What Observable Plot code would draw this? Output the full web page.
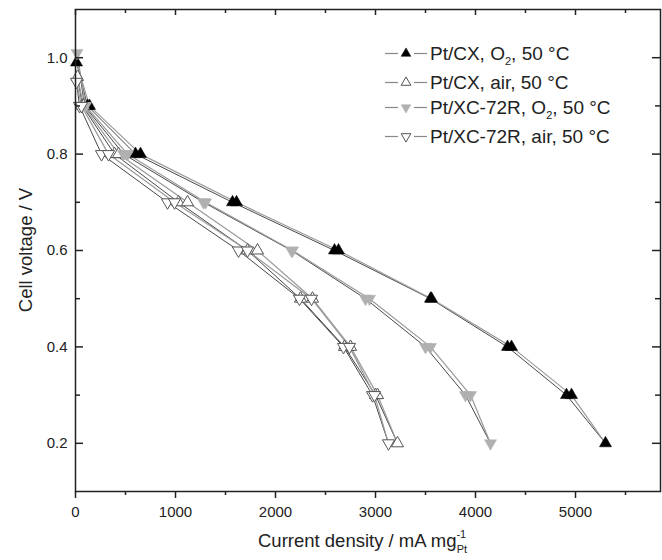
<!DOCTYPE html>
<html><head><meta charset="utf-8">
<script src="https://cdn.jsdelivr.net/npm/d3@7"></script>
<script src="https://cdn.jsdelivr.net/npm/@observablehq/plot@0.6"></script>
<style>body{margin:0;background:#fff} #chart{position:relative;width:662px;height:560px}</style>
</head><body><div id="chart"></div>
<script>
// ---- data ----
const xMajor = [0, 1000, 2000, 3000, 4000, 5000];
const xMinor = [500, 1500, 2500, 3500, 4500, 5500];
const yMajor = [0.2, 0.4, 0.6, 0.8, 1.0];
const yMinor = [0.3, 0.5, 0.7, 0.9];

const seriesCatalyst = ["Pt/CX", "Pt/CX", "Pt/XC-72R", "Pt/XC-72R"];
const seriesGas = ["O2", "air", "O2", "air"];

const scanVoltage = [0.9, 0.8, 0.7, 0.6, 0.5, 0.4, 0.3];
const endVoltage = 0.2;
const ocvVoltage = [0.99, 0.96, 1.01, 0.95];
const ocvCurrent = [10, 20, 15, 10];

const cxO2Down = [120, 600, 1570, 2590, 3550, 4320, 4910];
const cxO2Up = [140, 650, 1610, 2630, 3560, 4360, 4960];
const cxAirDown = [70, 390, 1030, 1720, 2250, 2690, 3000];
const cxAirUp = [80, 430, 1120, 1820, 2370, 2750, 3020];
const xcO2Down = [90, 480, 1280, 2160, 2900, 3500, 3900];
const xcO2Up = [100, 520, 1300, 2170, 2940, 3550, 3950];
const xcAirDown = [40, 260, 920, 1630, 2240, 2680, 2970];
const xcAirUp = [60, 330, 990, 1720, 2360, 2740, 2990];
const endCurrent = [5300, 3220, 4150, 3130];

const downScans = [cxO2Down, cxAirDown, xcO2Down, xcAirDown];
const upScans = [cxO2Up, cxAirUp, xcO2Up, xcAirUp];

// ---- build tables ----
const lineRows = [];
const dotRows = [[], [], [], []];
downScans.forEach((down, k) => {
  const up = upScans[k];
  const ocv = {i: ocvCurrent[k], v: ocvVoltage[k]};
  const end = {i: endCurrent[k], v: endVoltage};
  const dn = down.map((c, j) => ({i: c, v: scanVoltage[j]}));
  const upPts = up.map((c, j) => ({i: c, v: scanVoltage[j]}));
  [ocv, ...dn, end].forEach(p => lineRows.push({...p, key: k + "d", scan: "down"}));
  [end, ...upPts.slice().reverse(), ocv].forEach(p => lineRows.push({...p, key: k + "u", scan: "up"}));
  dotRows[k] = [ocv, ...dn, ...upPts, end];
});

// ---- symbols ----
const sqrt3 = Math.sqrt(3);
const triangleDown = {
  draw(context, size) {
    const y = Math.sqrt(size / (sqrt3 * 3));
    context.moveTo(0, 2 * y);
    context.lineTo(-sqrt3 * y, -y);
    context.lineTo(sqrt3 * y, -y);
    context.closePath();
  }
};
const styles = [
  {symbol: d3.symbolTriangle, fill: "#000", stroke: "#000", strokeWidth: 0.5},
  {symbol: d3.symbolTriangle, fill: "#fff", stroke: "#555", strokeWidth: 1},
  {symbol: triangleDown, fill: "#b0b0b0", stroke: "#b0b0b0", strokeWidth: 0.5},
  {symbol: triangleDown, fill: "#fff", stroke: "#555", strokeWidth: 1}
];

// ---- plot ----
const W = 662, H = 560, mL = 75, mR = 2, mT = 9, mB = 69;
const innerW = W - mL - mR, innerH = H - mT - mB;
const R = 4.5;
const axisStroke = "#222";

const svg = Plot.plot({
  width: W, height: H,
  marginLeft: mL, marginRight: mR, marginTop: mT, marginBottom: mB,
  x: {domain: [0, 5850]},
  y: {domain: [0.1, 1.1]},
  style: {fontFamily: "'Liberation Sans', Arial, sans-serif", fontSize: "15px", color: "#222", background: "#fff"},
  marks: [
    Plot.line(lineRows.filter(d => d.scan === "down"), {x: "i", y: "v", z: "key", stroke: "#333", strokeWidth: 0.9}),
    Plot.line(lineRows.filter(d => d.scan === "up"), {x: "i", y: "v", z: "key", stroke: "#9a9a9a", strokeWidth: 1.2}),
    ...styles.map((s, k) => Plot.dot(dotRows[k], {x: "i", y: "v", r: R, ...s})),
    Plot.frame({stroke: axisStroke, strokeWidth: 1.5}),
    Plot.axisX(xMajor, {anchor: "bottom", tickSize: 7, tickPadding: 8, tickFormat: d3.format("d"), label: null, fontSize: 15, strokeWidth: 1.5, stroke: axisStroke}),
    Plot.axisX(xMinor, {anchor: "bottom", tickSize: 4, tickFormat: () => "", label: null, strokeWidth: 1.5, stroke: axisStroke}),
    Plot.axisY(yMajor, {anchor: "left", tickSize: 0, tickPadding: 8, tickFormat: d3.format(".1f"), label: null, fontSize: 15}),
    Plot.ruleY(yMajor, {insetRight: innerW - 8, stroke: axisStroke, strokeWidth: 1.5}),
    Plot.ruleY(yMinor, {insetRight: innerW - 5, stroke: axisStroke, strokeWidth: 1.5}),
    Plot.ruleY(yMajor, {insetLeft: innerW - 8, stroke: axisStroke, strokeWidth: 1.5}),
    Plot.ruleY(yMinor, {insetLeft: innerW - 5, stroke: axisStroke, strokeWidth: 1.5}),
    Plot.ruleX(xMajor, {insetBottom: innerH - 6, stroke: axisStroke, strokeWidth: 1.5}),
    Plot.ruleX(xMinor, {insetBottom: innerH - 4, stroke: axisStroke, strokeWidth: 1.5})
  ]
});
document.getElementById("chart").appendChild(svg);

// ---- titles and legend (real SVG text) ----
const s = d3.select(svg);
const font = "'Liberation Sans', Arial, sans-serif";

const xt = s.append("text").attr("x", 258).attr("y", 547).attr("text-anchor", "start")
  .attr("font-family", font).attr("font-size", 18.5).attr("fill", "#222");
xt.append("tspan").text("Current density / mA mg");
xt.append("tspan").attr("font-size", 11).attr("dy", -9).text("-1");
xt.append("tspan").attr("font-size", 11).attr("dx", -9.5).attr("dy", 15).text("Pt");

s.append("text").attr("transform", "translate(32,250) rotate(-90)")
  .attr("text-anchor", "middle").attr("font-family", font).attr("font-size", 18.5).attr("fill", "#222")
  .text("Cell voltage / V");

const legendY = [53.5, 82.5, 107.5, 136.5];
const lg = s.append("g");
styles.forEach((st, k) => {
  const cy = legendY[k];
  lg.append("line").attr("x1", 385).attr("x2", 398).attr("y1", cy).attr("y2", cy).attr("stroke", "#888").attr("stroke-width", 1.2);
  lg.append("line").attr("x1", 414).attr("x2", 427).attr("y1", cy).attr("y2", cy).attr("stroke", "#888").attr("stroke-width", 1.2);
  lg.append("path").attr("transform", `translate(406,${cy})`)
    .attr("d", d3.symbol(st.symbol, Math.PI * 3.6 * 3.6)())
    .attr("fill", st.fill).attr("stroke", st.stroke).attr("stroke-width", st.strokeWidth);
  const t = lg.append("text").attr("x", 430).attr("y", cy + 6).attr("text-anchor", "start")
    .attr("font-family", font).attr("font-size", 19).attr("fill", "#222");
  if (seriesGas[k] === "O2") {
    t.append("tspan").text(seriesCatalyst[k] + ", O");
    t.append("tspan").attr("font-size", 11).attr("dy", 5).text("2");
    t.append("tspan").attr("dy", -5).text(", 50 \u00B0C");
  } else {
    t.append("tspan").text(seriesCatalyst[k] + ", air, 50 \u00B0C");
  }
});
</script></body></html>
